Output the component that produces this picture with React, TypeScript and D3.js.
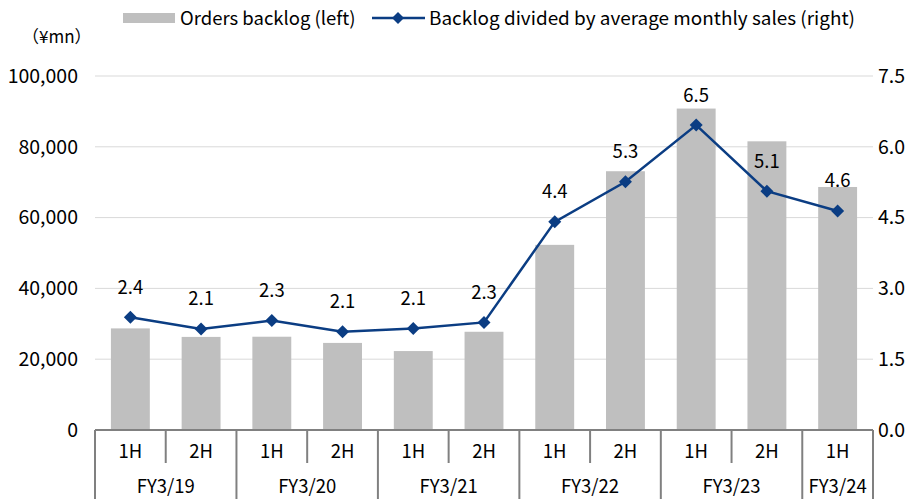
import React from "react";
import { scaleBand, scaleLinear, line } from "d3";

const halves = ["1H", "2H", "1H", "2H", "1H", "2H", "1H", "2H", "1H", "2H", "1H"];
const fiscalYears = ["FY3/19", "FY3/20", "FY3/21", "FY3/22", "FY3/23", "FY3/24"];
const yearSpans = [2, 2, 2, 2, 2, 1];
const backlog = [28700, 26300, 26350, 24600, 22300, 27750, 52300, 73100, 90800, 81550, 68650];
const ratio = [2.39, 2.14, 2.32, 2.08, 2.15, 2.28, 4.41, 5.26, 6.46, 5.06, 4.64];
const leftTicks = [0, 20000, 40000, 60000, 80000, 100000];
const rightTicks = [0, 1.5, 3.0, 4.5, 6.0, 7.5];

const FONT = "'Noto Sans CJK JP', 'Noto Sans', sans-serif";

export default function App() {
  const width = 919;
  const height = 499;
  const margin = { top: 76, right: 46, bottom: 69, left: 95 };
  const innerWidth = width - margin.left - margin.right;
  const innerHeight = height - margin.top - margin.bottom;

  const xScale = scaleBand<number>()
    .domain(halves.map((_, i) => i))
    .range([0, innerWidth])
    .paddingInner(0.45)
    .paddingOuter(0.225);
  const step = xScale.step();
  const yLeft = scaleLinear().domain([0, 100000]).range([innerHeight, 0]);
  const yRight = scaleLinear().domain([0, 7.5]).range([innerHeight, 0]);
  const cx = (i: number) => (xScale(i) as number) + xScale.bandwidth() / 2;

  const ratioLine = line<number>()
    .x((_, i) => cx(i))
    .y((d) => yRight(d));

  const fmt = (v: number) => v.toLocaleString("en-US");
  const axisColor = "#808080";
  const blue = "#0b3d83";

  // where each fiscal year starts
  const yearStarts: number[] = [];
  let acc = 0;
  yearSpans.forEach((s) => {
    yearStarts.push(acc);
    acc += s;
  });

  return (
    <svg width={width} height={height} style={{ display: "block", position: "absolute", left: 0, top: 0 }} fontFamily={FONT}>
      <rect width={width} height={height} fill="#fff" />
      {/* legend */}
      <g fontSize={18.5} fill="#000">
        <rect x={123} y={13} width={52} height={10} fill="#bfbfbf" />
        <text x={180} y={24.5}>Orders backlog (left)</text>
        <line x1={372} x2={425} y1={18} y2={18} stroke={blue} strokeWidth={2.5} />
        <path d="M398,12 L404,18 L398,24 L392,18 Z" fill={blue} />
        <text x={429} y={24.5} textLength={426} lengthAdjust="spacingAndGlyphs">
          Backlog divided by average monthly sales (right)
        </text>
      </g>
      <text x={22} y={43} fontSize={17}>（¥mn）</text>

      <g transform={`translate(${margin.left},${margin.top})`}>
        {leftTicks.map((t) => (
          <g key={t}>
            {t > 0 && (
              <line x1={0} x2={innerWidth} y1={yLeft(t)} y2={yLeft(t)} stroke="#d9d9d9" strokeWidth={1} />
            )}
            <text x={-17} y={yLeft(t)} dy="0.35em" textAnchor="end" fontSize={19.5}>
              {fmt(t)}
            </text>
          </g>
        ))}
        {rightTicks.map((t) => (
          <text key={t} x={innerWidth + 5} y={yRight(t)} dy="0.35em" fontSize={19.5}>
            {t.toFixed(1)}
          </text>
        ))}

        {backlog.map((v, i) => (
          <rect
            key={i}
            x={xScale(i)}
            y={yLeft(v)}
            width={xScale.bandwidth()}
            height={innerHeight - yLeft(v)}
            fill="#bfbfbf"
          />
        ))}

        <path d={ratioLine(ratio) || ""} fill="none" stroke={blue} strokeWidth={2.5} />
        {ratio.map((v, i) => (
          <g key={i} transform={`translate(${cx(i)},${yRight(v)})`}>
            <path d="M0,-6.5 L6.5,0 L0,6.5 L-6.5,0 Z" fill={blue} />
            <text y={-30} dy="0.35em" textAnchor="middle" fontSize={18.5}>
              {v.toFixed(1)}
            </text>
          </g>
        ))}

        {/* category axis */}
        <line x1={0} x2={innerWidth} y1={innerHeight} y2={innerHeight} stroke={axisColor} strokeWidth={2} />
        {halves.map((h, i) => (
          <g key={i}>
            <text x={cx(i)} y={innerHeight + 22} dy="0.35em" textAnchor="middle" fontSize={18.5}>
              {h}
            </text>
            {i > 0 && !yearStarts.includes(i) && (
              <line
                x1={i * step}
                x2={i * step}
                y1={innerHeight}
                y2={innerHeight + 33}
                stroke={axisColor}
                strokeWidth={2}
              />
            )}
          </g>
        ))}
        {yearStarts.concat([halves.length]).map((s) => (
          <line
            key={s}
            x1={s * step}
            x2={s * step}
            y1={innerHeight}
            y2={height - margin.top + 5}
            stroke={axisColor}
            strokeWidth={2}
          />
        ))}
        {fiscalYears.map((fy, k) => (
          <text
            key={fy}
            x={(yearStarts[k] + yearSpans[k] / 2) * step}
            y={innerHeight + 57}
            dy="0.35em"
            textAnchor="middle"
            fontSize={18.5}
          >
            {fy}
          </text>
        ))}
      </g>
    </svg>
  );
}
